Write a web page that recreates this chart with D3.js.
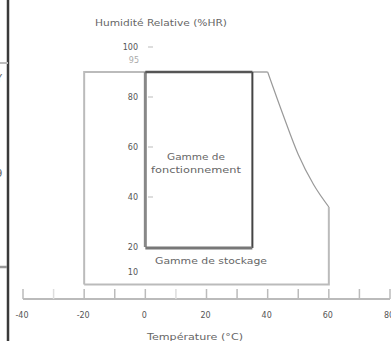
<!DOCTYPE html>
<html>
<head>
<meta charset="utf-8">
<script src="https://cdn.jsdelivr.net/npm/d3@7"></script>
<style>
  body { margin: 0; background: #fff; }
  text { font-family: "DejaVu Sans", "Liberation Sans", sans-serif; }
</style>
</head>
<body>
<div id="chart"></div>
<script>
// temperature ticks (°C) and humidity ticks (%HR)
var tempTicks = [-40, -30, -20, -10, 0, 10, 20, 30, 40, 50, 60, 70, 80];
var tempLabels = [-40, -20, 0, 20, 40, 60, 80];
var humTicks = [100, 80, 60, 40];
var humLabels = [100, 95, 80, 60, 40, 20, 10];

// operating range: 0..35 °C, 20..90 %HR
var operating = { t: [0, 35], h: [20, 90] };
// storage range outline: -20..60 °C, 5..90 %HR, with the hot-side curve
var storage = [[-20, 5], [-20, 90], [40, 90], [45, 73], [50, 57], [55, 45], [60, 36], [60, 5], [-20, 5]];

var width = 391, height = 341;

var x = d3.scaleLinear().domain([-40, 80]).range([23, 390]);
var y = d3.scaleLinear().domain([0, 100]).range([297, 47]);

var svg = d3.select("#chart").append("svg")
	.attr("width", width)
	.attr("height", height);

// left border of the scanned page, with clipped glyphs
svg.append("line").attr("x1", 8).attr("x2", 8).attr("y1", 0).attr("y2", height)
	.attr("stroke", "#3a3a3a").attr("stroke-width", 2.5);
svg.append("line").attr("x1", 0).attr("x2", 8).attr("y1", 63).attr("y2", 63)
	.attr("stroke", "#bbb").attr("stroke-width", 2);
svg.append("line").attr("x1", 0).attr("x2", 7).attr("y1", 267).attr("y2", 267)
	.attr("stroke", "#999").attr("stroke-width", 2.5);
var fragments = [["Y", 82], [")", 148], ["9", 177]];
svg.selectAll(".frag").data(fragments).enter().append("text")
	.attr("class", "frag")
	.attr("x", -4).attr("y", function(d){ return d[1]; })
	.attr("font-size", 10).attr("fill", "#666")
	.text(function(d){ return d[0]; });

// storage outline
var line = d3.line().x(function(d){ return x(d[0]); }).y(function(d){ return y(d[1]); });
svg.append("path")
	.attr("d", line(storage.slice(0, 3)))
	.attr("fill", "none").attr("stroke", "#bbb").attr("stroke-width", 2);
svg.append("path")
	.attr("d", d3.line().curve(d3.curveMonotoneX)
		.x(function(d){ return x(d[0]); }).y(function(d){ return y(d[1]); })(storage.slice(2, 7)))
	.attr("fill", "none").attr("stroke", "#999").attr("stroke-width", 1.2);
svg.append("path")
	.attr("d", line(storage.slice(6)))
	.attr("fill", "none").attr("stroke", "#bbb").attr("stroke-width", 2);

// operating rectangle
var ox0 = x(operating.t[0]), ox1 = x(operating.t[1]);
var oy0 = y(operating.h[1]), oy1 = y(operating.h[0]);
svg.append("line").attr("x1", ox0).attr("x2", ox0).attr("y1", oy0).attr("y2", oy1)
	.attr("stroke", "#888").attr("stroke-width", 3);
svg.append("line").attr("x1", ox1).attr("x2", ox1).attr("y1", oy0).attr("y2", oy1 + 1)
	.attr("stroke", "#444").attr("stroke-width", 2);
svg.append("line").attr("x1", ox0).attr("x2", ox1).attr("y1", oy0).attr("y2", oy0)
	.attr("stroke", "#555").attr("stroke-width", 2.5);
svg.append("line").attr("x1", ox0).attr("x2", ox1).attr("y1", oy1 + 1).attr("y2", oy1 + 1)
	.attr("stroke", "#777").attr("stroke-width", 3);

// x axis
var axisY = 299;
svg.append("line").attr("x1", x(-40)).attr("x2", x(80)).attr("y1", axisY).attr("y2", axisY)
	.attr("stroke", "#bbb").attr("stroke-width", 2);
svg.selectAll(".xtick").data(tempTicks).enter().append("line")
	.attr("class", "xtick")
	.attr("x1", function(d){ return x(d); }).attr("x2", function(d){ return x(d); })
	.attr("y1", 289).attr("y2", axisY)
	.attr("stroke", function(d){ return (d == -30 || d == 10) ? "#ddd" : "#bbb"; })
	.attr("stroke-width", 1.5);
svg.selectAll(".xlab").data(tempLabels).enter().append("text")
	.attr("class", "xlab")
	.attr("x", function(d){ return x(d) - 1; })
	.attr("y", 318)
	.attr("text-anchor", "middle")
	.attr("font-size", 8)
	.attr("fill", "#555")
	.text(function(d){ return d; });

// y ticks and labels
svg.selectAll(".ytick").data(humTicks).enter().append("line")
	.attr("class", "ytick")
	.attr("x1", 148).attr("x2", 153)
	.attr("y1", function(d){ return y(d); }).attr("y2", function(d){ return y(d); })
	.attr("stroke", "#bbb").attr("stroke-width", 1);
svg.selectAll(".ylab").data(humLabels).enter().append("text")
	.attr("class", "ylab")
	.attr("x", function(d){ return d == 95 ? 139 : 138; })
	.attr("y", function(d){ return y(d) + 3; })
	.attr("text-anchor", "end")
	.attr("font-size", 8)
	.attr("fill", function(d){ return d == 95 ? "#aaa" : "#555"; })
	.text(function(d){ return d; });

// titles and range labels, widths matched to the scan
function label(t, cx, by, w, size) {
	svg.append("text").attr("x", cx - w / 2).attr("y", by)
		.attr("font-size", size).attr("fill", "#666")
		.attr("textLength", w).attr("lengthAdjust", "spacingAndGlyphs")
		.text(t);
}
label("Humidité Relative (%HR)", 161, 26, 132, 9);
label("Température (°C)", 195, 340, 96, 9);
label("Gamme de", 196, 160, 58, 9);
label("fonctionnement", 196, 173, 90, 9);
label("Gamme de stockage", 211, 264, 112, 9.5);
</script>
</body>
</html>
